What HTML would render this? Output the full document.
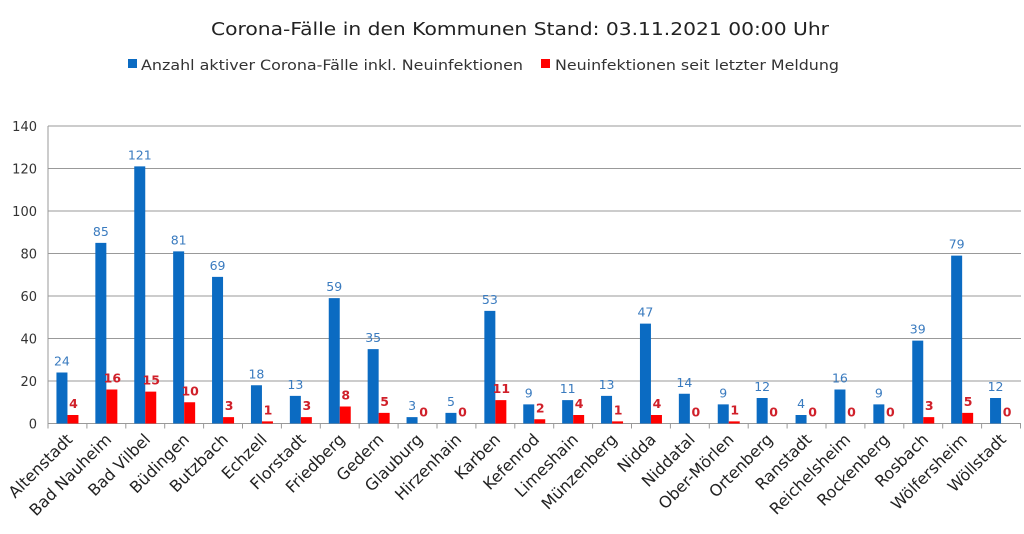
<!DOCTYPE html>
<html><head><meta charset="utf-8"><style>body{margin:0;background:#fff}svg{display:block}</style></head><body>
<svg width="1024" height="534" xmlns="http://www.w3.org/2000/svg" font-family="DejaVu Sans, sans-serif">
<text x="520" y="35" text-anchor="middle" font-size="18" fill="#222" textLength="618" lengthAdjust="spacingAndGlyphs">Corona-Fälle in den Kommunen Stand: 03.11.2021 00:00 Uhr</text>
<rect x="128" y="59" width="9" height="9" fill="#0b6bc2"/>
<text x="141" y="70" font-size="14" fill="#333" textLength="382" lengthAdjust="spacingAndGlyphs">Anzahl aktiver Corona-Fälle inkl. Neuinfektionen</text>
<rect x="541" y="59" width="9" height="9" fill="#f00"/>
<text x="555" y="70" font-size="14" fill="#333" textLength="284" lengthAdjust="spacingAndGlyphs">Neuinfektionen seit letzter Meldung</text>
<g id="c"></g>
</svg>
<script>
const names=["Altenstadt","Bad Nauheim","Bad Vilbel","Büdingen","Butzbach","Echzell","Florstadt","Friedberg","Gedern","Glauburg","Hirzenhain","Karben","Kefenrod","Limeshain","Münzenberg","Nidda","Niddatal","Ober-Mörlen","Ortenberg","Ranstadt","Reichelsheim","Rockenberg","Rosbach","Wölfersheim","Wöllstadt"];
const a=[24,85,121,81,69,18,13,59,35,3,5,53,9,11,13,47,14,9,12,4,16,9,39,79,12];
const r=[4,16,15,10,3,1,3,8,5,0,0,11,2,4,1,4,0,1,0,0,0,0,3,5,0];
const x0=48,y0=423.5,cw=38.9,s=297.5/140;let h='';
for(let v=0;v<=140;v+=20){const y=y0-v*s;h+=`<line x1="${x0}" x2="1021" y1="${y}" y2="${y}" stroke="#999" stroke-width="1"/><text x="37" y="${y+5}" text-anchor="end" font-size="13" fill="#333">${v}</text>`;}
h+=`<line x1="${x0}" x2="${x0}" y1="126" y2="${y0}" stroke="#999"/>`;
for(let i=0;i<=25;i++){const x=x0+i*cw;h+=`<line x1="${x}" x2="${x}" y1="${y0}" y2="${y0+5}" stroke="#999"/>`;}
names.forEach((n,i)=>{const cx=x0+i*cw+cw/2;const bh=a[i]*s,rh=r[i]*s;
h+=`<rect x="${cx-11}" y="${y0-bh}" width="11" height="${bh}" fill="#0b6bc2"/>`;
h+=`<rect x="${cx}" y="${y0-rh}" width="11" height="${rh}" fill="#f00"/>`;
h+=`<text x="${cx-5.5}" y="${y0-bh-7}" text-anchor="middle" font-size="12.5" fill="#3a7bbf">${a[i]}</text>`;
h+=`<text x="${cx+6}" y="${y0-rh-7}" text-anchor="middle" font-size="12.5" font-weight="bold" fill="#d0202a">${r[i]}</text>`;
h+=`<text transform="translate(${cx+6},${y0+17}) rotate(-45)" text-anchor="end" font-size="16" fill="#222">${n}</text>`;});
document.getElementById('c').innerHTML=h;
</script>
</body></html>
